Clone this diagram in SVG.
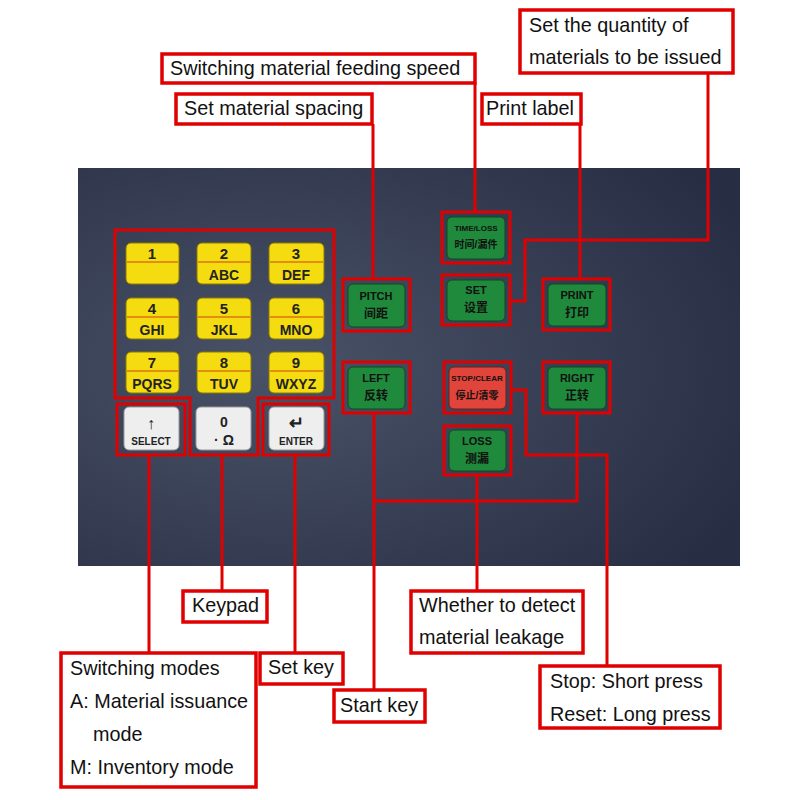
<svg xmlns="http://www.w3.org/2000/svg" width="800" height="800" viewBox="0 0 800 800">
<style>
.lb{fill:#fff;stroke:#e00000;stroke-width:3.5}
.t{font-family:"Liberation Sans",Arial,sans-serif;font-size:19.8px;fill:#111}
.ln{fill:none;stroke:#e00000;stroke-width:3}
.ol{fill:none;stroke:#e00000;stroke-width:3}
.y{fill:#f5dc10;stroke:#8a7a00;stroke-width:1}
.w{fill:#eeeeee;stroke:#999;stroke-width:1}
.g{fill:#1f8a3c;stroke:#0f4a20;stroke-width:1}
.r{fill:#e0443a;stroke:#7a1a14;stroke-width:1}
.kt{font-family:"Liberation Sans",Arial,sans-serif;font-weight:bold;text-anchor:middle;fill:#222}
.bt{font-family:"Liberation Sans",Arial,"Noto Sans CJK SC",sans-serif;font-weight:bold;text-anchor:middle;fill:#111}
</style>
<defs>
<radialGradient id="pg" cx="0.3" cy="0.5" r="0.8">
<stop offset="0" stop-color="#4a5268"/><stop offset="1" stop-color="#272e44"/>
</radialGradient>
</defs>
<rect width="800" height="800" fill="#fff"/>
<rect id="panel" x="78" y="168" width="662" height="398" fill="url(#pg)"/>
<g id="keys">
<g id="k1"><rect class="y" x="126" y="243" width="53" height="41" rx="5"/><line x1="127" y1="262" x2="178" y2="262" stroke="#d04010"/><text class="kt" x="152" y="259" font-size="15">1</text></g>
<g id="k2"><rect class="y" x="197" y="243" width="54" height="41" rx="5"/><line x1="198" y1="262" x2="250" y2="262" stroke="#d04010"/><text class="kt" x="224" y="259" font-size="15">2</text><text class="kt" x="224" y="280" font-size="14">ABC</text></g>
<g id="k3"><rect class="y" x="269" y="243" width="55" height="41" rx="5"/><line x1="270" y1="262" x2="323" y2="262" stroke="#d04010"/><text class="kt" x="296" y="259" font-size="15">3</text><text class="kt" x="296" y="280" font-size="14">DEF</text></g>
<g id="k4"><rect class="y" x="126" y="298" width="53" height="41" rx="5"/><line x1="127" y1="317" x2="178" y2="317" stroke="#d04010"/><text class="kt" x="152" y="314" font-size="15">4</text><text class="kt" x="152" y="335" font-size="14">GHI</text></g>
<g id="k5"><rect class="y" x="197" y="298" width="54" height="41" rx="5"/><line x1="198" y1="317" x2="250" y2="317" stroke="#d04010"/><text class="kt" x="224" y="314" font-size="15">5</text><text class="kt" x="224" y="335" font-size="14">JKL</text></g>
<g id="k6"><rect class="y" x="269" y="298" width="55" height="41" rx="5"/><line x1="270" y1="317" x2="323" y2="317" stroke="#d04010"/><text class="kt" x="296" y="314" font-size="15">6</text><text class="kt" x="296" y="335" font-size="14">MNO</text></g>
<g id="k7"><rect class="y" x="126" y="352" width="53" height="41" rx="5"/><line x1="127" y1="371" x2="178" y2="371" stroke="#d04010"/><text class="kt" x="152" y="368" font-size="15">7</text><text class="kt" x="152" y="389" font-size="14">PQRS</text></g>
<g id="k8"><rect class="y" x="197" y="352" width="54" height="41" rx="5"/><line x1="198" y1="371" x2="250" y2="371" stroke="#d04010"/><text class="kt" x="224" y="368" font-size="15">8</text><text class="kt" x="224" y="389" font-size="14">TUV</text></g>
<g id="k9"><rect class="y" x="269" y="352" width="55" height="41" rx="5"/><line x1="270" y1="371" x2="323" y2="371" stroke="#d04010"/><text class="kt" x="296" y="368" font-size="15">9</text><text class="kt" x="296" y="389" font-size="14">WXYZ</text></g>
<g id="kselect"><rect class="w" x="124" y="407" width="55" height="43" rx="5"/><text class="kt" x="151" y="429" font-size="16">↑</text><text class="kt" x="151" y="445" font-size="10">SELECT</text></g>
<g id="k0"><rect class="w" x="196" y="407" width="55" height="43" rx="5"/><text class="kt" x="224" y="427" font-size="14">0</text><text class="kt" x="224" y="445" font-size="14">·  Ω</text></g>
<g id="kenter"><rect class="w" x="269" y="407" width="55" height="43" rx="5"/><text class="kt" x="296" y="429" font-size="18">↵</text><text class="kt" x="296" y="445" font-size="10">ENTER</text></g>
</g>
<g id="buttons">
<g id="bpitch"><rect class="g" x="348" y="284" width="57" height="43" rx="5"/><text class="bt" x="376" y="300" font-size="11">PITCH</text><text class="bt" x="376" y="318" font-size="12">间距</text><rect class="ol" x="343" y="279" width="67" height="52"/></g>
<g id="btime"><rect class="g" x="447" y="217" width="58" height="42" rx="5"/><text class="bt" x="476" y="231" font-size="8">TIME/LOSS</text><text class="bt" x="476" y="248" font-size="10">时间/漏件</text><rect class="ol" x="442" y="212" width="68" height="51"/></g>
<g id="bset"><rect class="g" x="447" y="280" width="58" height="41" rx="5"/><text class="bt" x="476" y="294" font-size="11">SET</text><text class="bt" x="476" y="312" font-size="12">设置</text><rect class="ol" x="442" y="275" width="68" height="50"/></g>
<g id="bprint"><rect class="g" x="548" y="284" width="58" height="42" rx="5"/><text class="bt" x="577" y="299" font-size="11" fill="#7fb08a">PRINT</text><text class="bt" x="577" y="317" font-size="12">打印</text><rect class="ol" x="543" y="279" width="67" height="51"/></g>
<g id="bleft"><rect class="g" x="348" y="367" width="57" height="42" rx="5"/><text class="bt" x="376" y="382" font-size="11">LEFT</text><text class="bt" x="376" y="400" font-size="12">反转</text><rect class="ol" x="343" y="362" width="67" height="51"/></g>
<g id="bstop"><rect class="r" x="449" y="367" width="57" height="42" rx="5"/><text class="bt" x="477" y="381" font-size="8">STOP/CLEAR</text><text class="bt" x="477" y="399" font-size="10">停止/清零</text><rect class="ol" x="444" y="362" width="67" height="51"/></g>
<g id="bright"><rect class="g" x="548" y="367" width="58" height="42" rx="5"/><text class="bt" x="577" y="382" font-size="11">RIGHT</text><text class="bt" x="577" y="400" font-size="12">正转</text><rect class="ol" x="543" y="362" width="67" height="51"/></g>
<g id="bloss"><rect class="g" x="449" y="430" width="57" height="41" rx="5"/><text class="bt" x="477" y="445" font-size="11">LOSS</text><text class="bt" x="477" y="463" font-size="12">测漏</text><rect class="ol" x="444" y="426" width="67" height="49"/></g>
</g>
<g id="outlines">
<path class="ol" d="M115,230 H334 V398 H258 V455 H190 V398 H115 Z"/>
<rect class="ol" x="117" y="404" width="68" height="51"/>
<rect class="ol" x="263" y="404" width="66" height="51"/>
</g>
<g id="connectors">
<path class="ln" d="M475,83 V212"/>
<path class="ln" d="M373,124 V279"/>
<path class="ln" d="M580,124 V279"/>
<path class="ln" d="M708,73 V240 H525 V301 H510"/>
<path class="ln" d="M149,455 V653"/>
<path class="ln" d="M222,455 V591"/>
<path class="ln" d="M295,455 V653"/>
<path class="ln" d="M374,413 V690"/>
<path class="ln" d="M374,501 H577 V413"/>
<path class="ln" d="M477,475 V591"/>
<path class="ln" d="M511,390 H526 V455 H607 V666"/>
</g>
<g id="lbl-speed"><rect class="lb" x="162" y="54" width="313" height="29"/><text class="t" x="170" y="75">Switching material feeding speed</text></g>
<g id="lbl-spacing"><rect class="lb" x="176" y="94" width="196" height="30"/><text class="t" x="184" y="115">Set material spacing</text></g>
<g id="lbl-print"><rect class="lb" x="482" y="94" width="99" height="30"/><text class="t" x="486" y="115">Print label</text></g>
<g id="lbl-qty"><rect class="lb" x="520" y="10" width="213" height="63"/><text class="t" x="529" y="32">Set the quantity of</text><text class="t" x="529" y="64">materials to be issued</text></g>
<g id="lbl-keypad"><rect class="lb" x="183" y="591" width="84" height="31"/><text class="t" x="192" y="612">Keypad</text></g>
<g id="lbl-modes"><rect class="lb" x="61" y="653" width="195" height="134"/><text class="t" x="70" y="675">Switching modes</text><text class="t" x="70" y="708">A: Material issuance</text><text class="t" x="93" y="741">mode</text><text class="t" x="70" y="774">M: Inventory mode</text></g>
<g id="lbl-setkey"><rect class="lb" x="260" y="653" width="83" height="31"/><text class="t" x="268" y="674">Set key</text></g>
<g id="lbl-start"><rect class="lb" x="334" y="690" width="91" height="32"/><text class="t" x="340" y="712">Start key</text></g>
<g id="lbl-leak"><rect class="lb" x="411" y="591" width="172" height="62"/><text class="t" x="419" y="612">Whether to detect</text><text class="t" x="419" y="644">material leakage</text></g>
<g id="lbl-stop"><rect class="lb" x="540" y="666" width="180" height="62"/><text class="t" x="550" y="688">Stop: Short press</text><text class="t" x="550" y="721">Reset: Long press</text></g>
</svg>
